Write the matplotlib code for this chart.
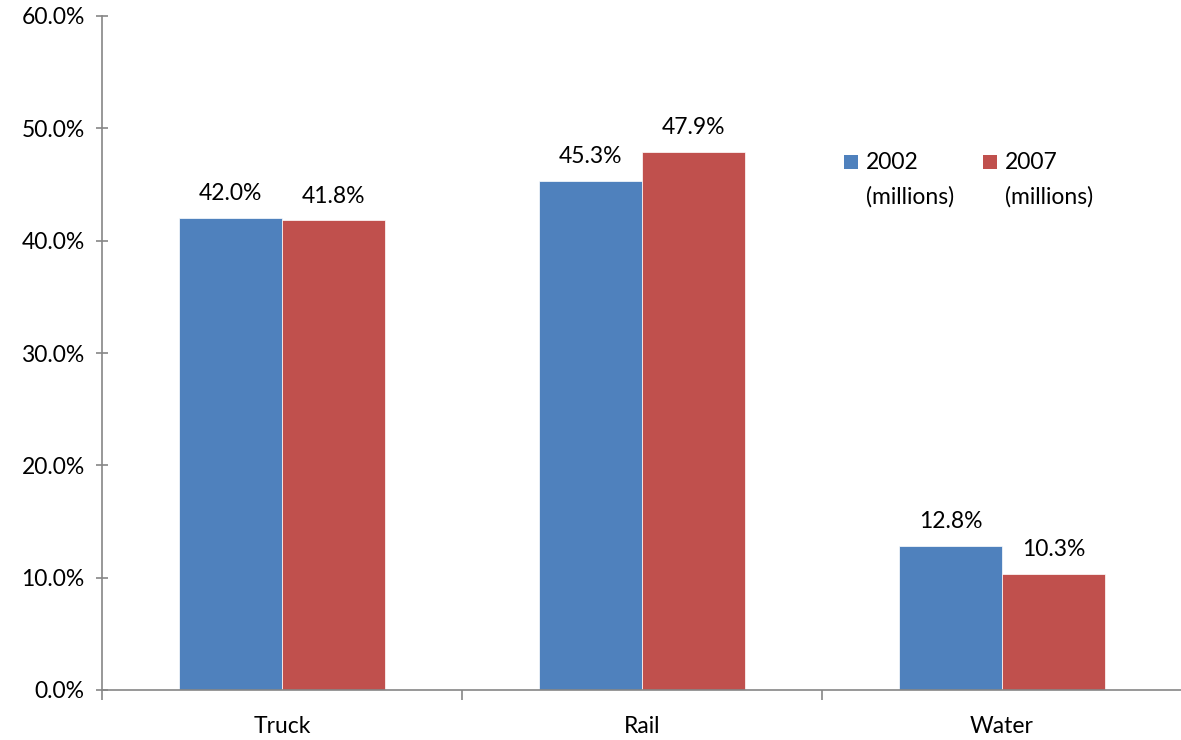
import matplotlib
matplotlib.use("Agg")
import matplotlib.pyplot as plt
from matplotlib.patches import Rectangle
import numpy as np

categories = ["Truck", "Rail", "Water"]
values_2002 = [42.0, 45.3, 12.8]
values_2007 = [41.8, 47.9, 10.3]
series_labels = ["2002\n(millions)", "2007\n(millions)"]
yticks = [0, 10, 20, 30, 40, 50, 60]

plt.rcParams['font.family'] = ['Lato', 'DejaVu Sans']
FS = 16.5

fig = plt.figure(figsize=(11.81, 7.40), dpi=100)
ax = fig.add_axes([102/1181, 50/740, 1080/1181, 674/740])

x = np.arange(len(categories))
w = 0.286
blue = "#4F81BD"
red = "#C0504D"
b1 = ax.bar(x - w/2, values_2002, w, color=blue, edgecolor="white", linewidth=0.5, label=series_labels[0])
b2 = ax.bar(x + w/2, values_2007, w, color=red, edgecolor="white", linewidth=0.5, label=series_labels[1])

for bars, vals in ((b1, values_2002), (b2, values_2007)):
    for rect, v in zip(bars, vals):
        ax.annotate(f"{v:.1f}%", (rect.get_x() + rect.get_width()/2, v),
                    xytext=(0, 10), textcoords="offset points",
                    ha="center", va="bottom", fontsize=FS)

ax.set_xlim(-0.5, 2.5)
ax.set_ylim(0, 60)
ax.set_yticks(yticks)
ax.set_yticklabels([f"{t:.1f}%" for t in yticks], fontsize=FS)
ax.set_xticks(x)
ax.set_xticklabels(categories, fontsize=FS)
ax.set_xticks([-0.5, 0.5, 1.5, 2.5], minor=True)
ax.tick_params(axis="x", which="major", length=0, pad=19)
ax.tick_params(axis="x", which="minor", length=7, direction="out", color="#868686", width=1.2)
ax.tick_params(axis="y", length=9, direction="inout", color="#868686", width=1.2, pad=8)

for s in ("top", "right"):
    ax.spines[s].set_visible(False)
for s in ("left", "bottom"):
    ax.spines[s].set_color("#868686")
    ax.spines[s].set_linewidth(1.2)

# legend drawn manually (square aligned with first line of label)
leg_items = [(0.687, 0.707, blue, series_labels[0]), (0.816, 0.836, red, series_labels[1])]
for sx, tx, col, lab in leg_items:
    ax.add_patch(Rectangle((sx, 0.773), 0.013, 0.0208, transform=ax.transAxes,
                           facecolor=col, edgecolor="none", clip_on=False))
    ax.text(tx, 0.798, lab, transform=ax.transAxes, ha="left", va="top",
            fontsize=FS, linespacing=1.75)

fig.savefig("out.png", dpi=100)
